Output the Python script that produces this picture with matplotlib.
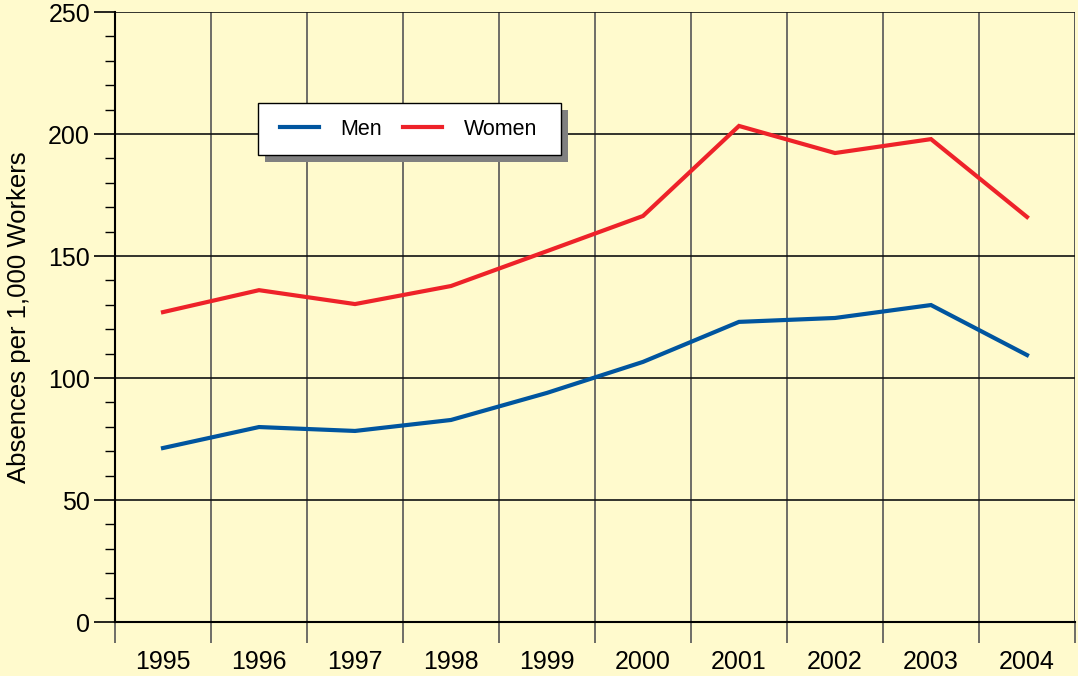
import matplotlib
matplotlib.use("Agg")
import matplotlib.pyplot as plt
from matplotlib.patches import Rectangle
import numpy as np

years = ["1995", "1996", "1997", "1998", "1999", "2000", "2001", "2002", "2003", "2004"]
men = [71.3, 79.9, 78.3, 82.8, 93.9, 106.6, 123.0, 124.6, 129.9, 109.4]
women = [127.0, 136.0, 130.3, 137.7, 152.0, 166.4, 203.3, 192.2, 197.9, 166.0]

bg = "#FFFACD"
plt.rcParams['font.family'] = ['Liberation Sans', 'DejaVu Sans']

W, H = 1078, 676
fig = plt.figure(figsize=(W / 100, H / 100), dpi=100, facecolor=bg)
AX_L, AX_T, AX_R, AX_B = 115, 12, 1075, 622
ax = fig.add_axes([AX_L / W, 1 - AX_B / H, (AX_R - AX_L) / W, (AX_B - AX_T) / H])
ax.set_facecolor(bg)

x = np.arange(len(years))
ax.plot(x, men, color="#00559F", lw=3, label="Men", solid_joinstyle="miter", zorder=3)
ax.plot(x, women, color="#EE2229", lw=3, label="Women", solid_joinstyle="miter", zorder=3)

ax.set_xlim(-0.5, len(years) - 0.5)
ax.set_ylim(0, 250)

# x: labels at centres, ticks/grid at boundaries
ax.set_xticks(x)
ax.set_xticklabels(years, fontsize=18)
ax.tick_params(axis="x", which="major", length=0, pad=20)
ax.set_xticks(np.arange(-0.5, len(years)), minor=True)
ax.tick_params(axis="x", which="minor", length=15, width=1.2, color="#555555", direction="out")
for b in np.arange(0.5, len(years)):
    ax.axvline(b, color="#555555", lw=1.2, zorder=1)
ax.axvline(len(years) - 0.5, color="#555555", lw=1.2, zorder=1)

# y
ax.set_yticks(np.arange(0, 251, 50))
ax.set_yticks(np.arange(0, 251, 10), minor=True)
ax.tick_params(axis="y", which="major", length=15, width=1.2, labelsize=18, pad=3)
ax.tick_params(axis="y", which="minor", length=7, width=1.0)
for v in np.arange(50, 251, 50):
    ax.axhline(v, color="#111111", lw=1.2, zorder=1)

for s in ["top", "right"]:
    ax.spines[s].set_visible(False)
ax.spines["left"].set_linewidth(1.5)
ax.spines["bottom"].set_linewidth(1.5)

ax.set_ylabel("Absences per 1,000 Workers", fontsize=18.5)
ax.yaxis.set_label_coords(-0.087, 0.5)

# legend content (frame drawn manually for separate horizontal/vertical padding)
BOX_L, BOX_T, BOX_H = 258, 103, 52
PAD_L, PAD_R = 22, 24
aw, ah = AX_R - AX_L, AX_B - AX_T


def px2ax(px, py):
    return ((px - AX_L) / aw, (AX_B - py) / ah)


leg = ax.legend(ncol=2, loc="upper left", bbox_to_anchor=px2ax(BOX_L + PAD_L, BOX_T + 14),
                fontsize=15.5, frameon=False, handlelength=1.8, columnspacing=1.0,
                handletextpad=1.0, borderpad=0, borderaxespad=0)
leg.set_zorder(5)
fig.canvas.draw()
bb = leg.get_window_extent()
ch = bb.height
top_px = BOX_T + (BOX_H - ch) / 2
leg.set_bbox_to_anchor(px2ax(BOX_L + PAD_L, top_px), transform=ax.transAxes)
fig.canvas.draw()
bb = leg.get_window_extent()
box_w = bb.width + PAD_L + PAD_R

x0, y0 = px2ax(BOX_L, BOX_T + BOX_H)
bw, bh = box_w / aw, BOX_H / ah
shadow = Rectangle((x0 + 7 / aw, y0 - 7 / ah), bw, bh, transform=ax.transAxes,
                   facecolor="#808080", edgecolor="none", zorder=4.5)
frame = Rectangle((x0, y0), bw, bh, transform=ax.transAxes,
                  facecolor="white", edgecolor="black", lw=1.0, zorder=4.8)
ax.add_patch(shadow)
ax.add_patch(frame)

fig.savefig("out.png", dpi=100, facecolor=bg)
